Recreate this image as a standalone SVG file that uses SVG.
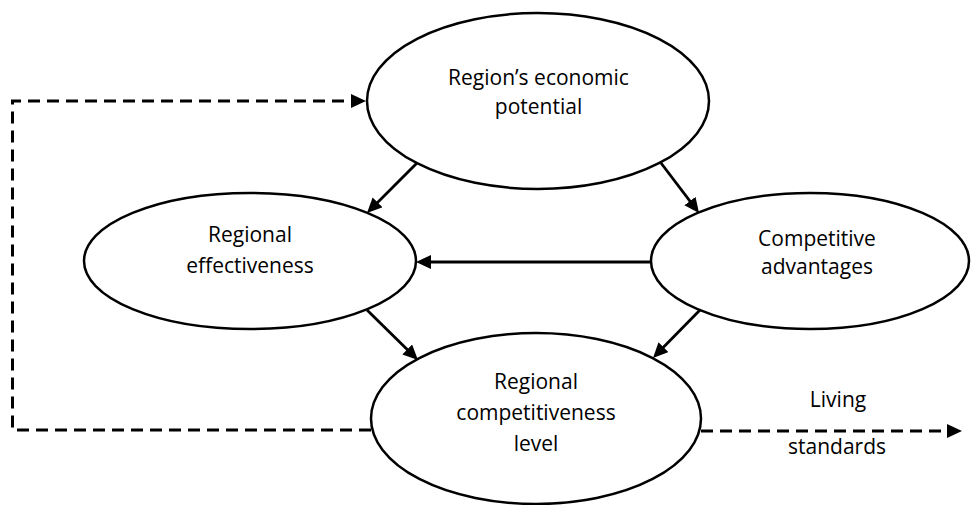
<svg xmlns="http://www.w3.org/2000/svg" width="971" height="505" viewBox="0 0 971 505">
  <style>
    .node ellipse { fill: #ffffff; stroke: #000000; stroke-width: 2.5; }
    text { font-family: "Open Sans", "Noto Sans", sans-serif; font-size: 21px; fill: #000000; text-anchor: middle; }
    .flow { stroke: #000000; stroke-width: 2.8; fill: none; marker-end: url(#head); }
    .feedback { stroke: #000000; stroke-width: 3; fill: none; stroke-dasharray: 12 7; marker-end: url(#head); }
  </style>
  <defs>
    <marker id="head" markerUnits="userSpaceOnUse" markerWidth="17" markerHeight="15" refX="11" refY="7" orient="auto">
      <path d="M0,0 L15,7 L0,14 Z" fill="#000000"/>
    </marker>
  </defs>

  <rect width="971" height="505" fill="#ffffff"/>

  <!-- nodes -->
  <g id="economic-potential" class="node">
    <ellipse cx="538" cy="101" rx="171" ry="88"/>
    <text x="538.5" y="85">Region’s economic</text>
    <text x="538.5" y="114">potential</text>
  </g>

  <g id="regional-effectiveness" class="node">
    <ellipse cx="250" cy="261" rx="166" ry="68"/>
    <text x="250" y="242">Regional</text>
    <text x="250" y="273">effectiveness</text>
  </g>

  <g id="competitive-advantages" class="node">
    <ellipse cx="810" cy="261" rx="159" ry="68"/>
    <text x="817" y="246">Competitive</text>
    <text x="817" y="274">advantages</text>
  </g>

  <g id="competitiveness-level" class="node">
    <ellipse cx="536" cy="418.5" rx="165" ry="85.5"/>
    <text x="536" y="389">Regional</text>
    <text x="536" y="420">competitiveness</text>
    <text x="536" y="451">level</text>
  </g>

  <!-- connectors -->
  <g id="connectors">
    <line class="flow" x1="417" y1="163" x2="369.8" y2="210.2"/>
    <line class="flow" x1="661" y1="163" x2="696.6" y2="209.8"/>
    <line class="flow" x1="651" y1="262" x2="420" y2="262"/>
    <line class="flow" x1="367" y1="310" x2="415.1" y2="357.2"/>
    <line class="flow" x1="700" y1="310" x2="655.8" y2="355.1"/>
    <path class="feedback" d="M371,430 H12.5 V101 H362"/>
    <path class="feedback" d="M701,431 H958"/>
    <text x="838" y="407">Living</text>
    <text x="837" y="454">standards</text>
  </g>
</svg>
